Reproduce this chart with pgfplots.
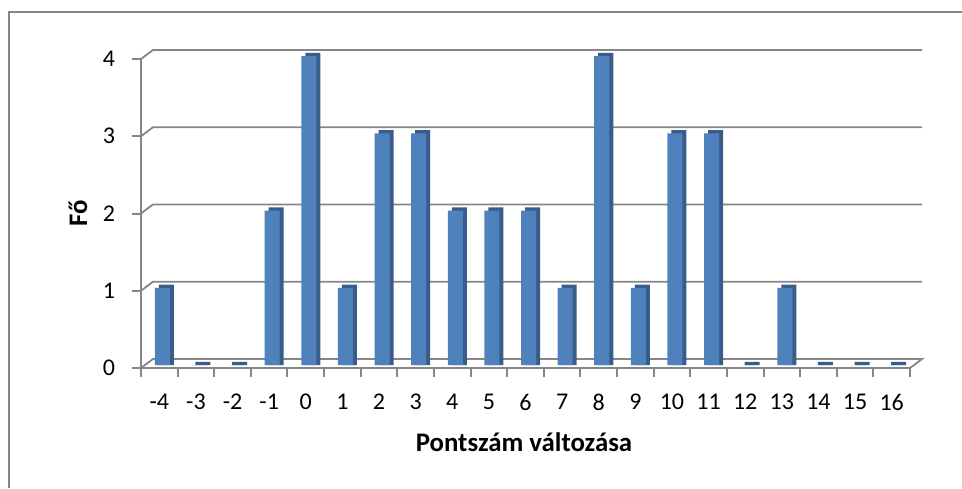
\documentclass[border=0pt]{standalone}
\usepackage{fontspec}
\setmainfont{Carlito}
\usepackage{pgfplots}
\pgfplotsset{compat=1.18}
\usepackage{pgfplotstable}
\definecolor{barfront}{RGB}{79,129,189}
\definecolor{barside}{RGB}{56,93,138}
\definecolor{axgray}{RGB}{134,134,134}

% Pontszam valtozasa -> Fo
\pgfplotstableread{
x y
-4 1
-3 0
-2 0
-1 2
0 4
1 1
2 3
3 3
4 2
5 2
6 2
7 1
8 4
9 1
10 3
11 3
12 0
13 1
14 0
15 0
16 0
}\counts

\begin{document}
\begin{tikzpicture}[x=0.5pt,y=0.5pt]
\path[use as bounding box] (0,0) rectangle (962,488);
% chart frame (only top and left edges are inside the picture)
\draw[axgray, line width=1pt] (8.5,0) -- (8.5,475.5) -- (962,475.5);
\begin{axis}[
  at={(70.5pt,60pt)}, anchor=south west,
  scale only axis, width=384.5pt, height=154.5pt,
  xmin=-4.5, xmax=16.5, ymin=0, ymax=4,
  clip=false,
  axis x line*=bottom, axis y line*=left,
  axis line style={-, axgray, line width=1pt},
  tick align=outside,
  major tick length=4.5pt,
  tick style={axgray, line width=1pt},
  xtick={-4.5,-3.5,...,16.5},
  x tick label as interval,
  xticklabels={-4,-3,-2,-1,0,1,2,3,4,5,6,7,8,9,10,11,12,13,14,15,16},
  ytick={0,1,2,3,4},
  yticklabels={0,1,2,3,4},
  ticklabel style={font=\fontsize{12}{14}\selectfont},
  xticklabel style={yshift=-5pt},
  yticklabel style={xshift=-5pt},
  every axis x label/.style={at={(axis description cs:0.498,-0.24)}, anchor=center},
  every axis y label/.style={at={(axis description cs:-0.082,0.5)}, rotate=90, anchor=center},
  label style={font=\bfseries\fontsize{13.4}{15}\selectfont},
  xlabel={Pontszám változása},
  ylabel={Fő},
]
% back plane gridlines and floor
\draw[axgray, line width=0.9pt] (axis cs:-4.5,1) -- (axis cs:-4.172,1.117) -- (axis cs:16.828,1.117);
\draw[axgray, line width=0.9pt] (axis cs:-4.5,2) -- (axis cs:-4.172,2.117) -- (axis cs:16.828,2.117);
\draw[axgray, line width=0.9pt] (axis cs:-4.5,3) -- (axis cs:-4.172,3.117) -- (axis cs:16.828,3.117);
\draw[axgray, line width=0.9pt] (axis cs:-4.5,4) -- (axis cs:-4.172,4.117) -- (axis cs:16.828,4.117);
\draw[axgray, line width=0.9pt] (axis cs:-4.5,0) -- (axis cs:-4.172,0.117) -- (axis cs:16.828,0.117) -- (axis cs:16.5,0);
% side/top faces
\addplot[ybar, bar width=0.41, bar shift=0pt, xshift=3.5pt, yshift=1.5pt,
  fill=barside, draw=none] table[x=x, y expr=\thisrow{y}+0.04] {\counts};
% front faces
\addplot[ybar, bar width=0.41, bar shift=0pt, xshift=1.5pt, yshift=1.5pt,
  fill=barfront, draw=none] table[x=x, y=y] {\counts};
\end{axis}
\end{tikzpicture}
\end{document}
